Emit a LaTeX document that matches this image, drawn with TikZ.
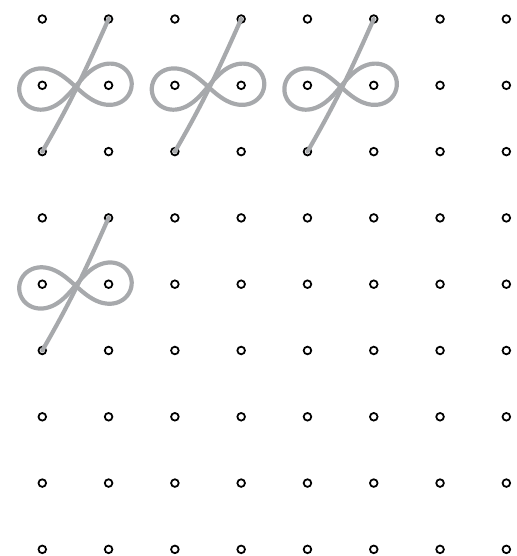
\documentclass[tikz,border=0pt]{standalone}
\usetikzlibrary{calc}
\definecolor{loopgray}{RGB}{167,169,172}
\begin{document}
\begin{tikzpicture}[
  dot/.style={draw, circle, inner sep=0pt, minimum size=0.115cm, line width=0.75pt},
  loopline/.style={draw=loopgray, line width=1.8pt, line cap=round, line join=round},
]
\useasboundingbox (-0.638,0.287) rectangle (7.16,-8.10);

% ======= Dot grid =======
\foreach \i in {0,...,7}
  \foreach \j in {0,...,8}
    \node[dot] (d-\i-\j) at (\i,-\j) {};

% ======= Loops =======
\foreach \c/\r in {0/0,2/0,4/0,0/3}{
  \pgfmathtruncatemacro{\cn}{\c+1}
  \pgfmathtruncatemacro{\rmid}{\r+1}
  \pgfmathtruncatemacro{\rlow}{\r+2}
  \coordinate (mid) at ($(d-\c-\rmid)!0.5!(d-\cn-\rmid)+(0,-0.02)$);
  \begin{scope}[shift={(mid)}, rotate=4]
    \draw[loopline] plot[domain=0:360, samples=121, smooth]
      ({0.85*cos(\x)/(1+sin(\x)^2)}, {0.88*sin(\x)*cos(\x)/(1+sin(\x)^2)});
  \end{scope}
  \draw[loopline] (d-\c-\rlow.center) to[out=60, in=-114] (d-\cn-\r.center);
}

\end{tikzpicture}
\end{document}
